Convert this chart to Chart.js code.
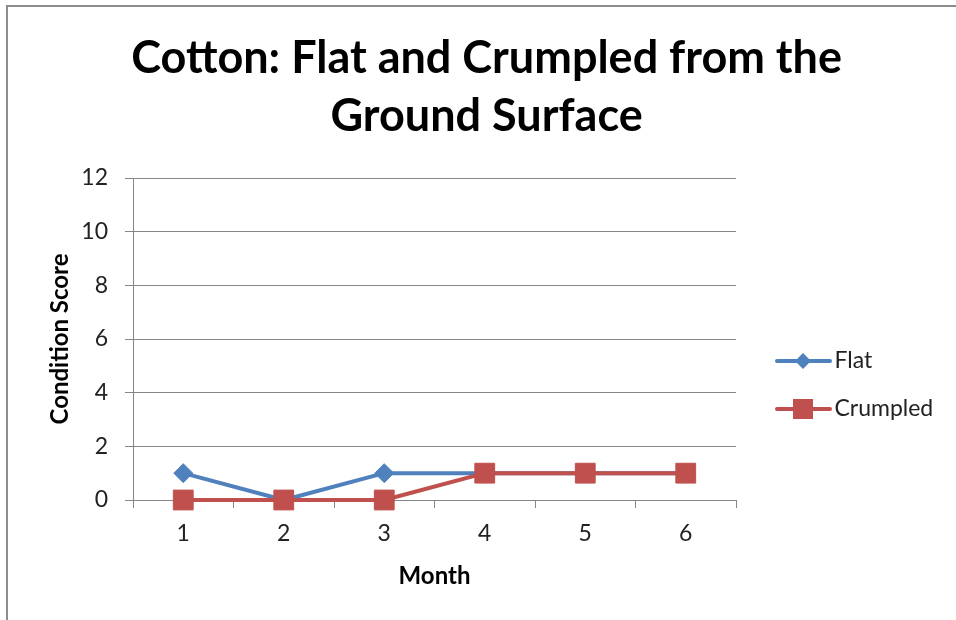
<!DOCTYPE html>
<html>
<head>
<meta charset="utf-8">
<script src="https://cdn.jsdelivr.net/npm/chart.js@4"></script>
<style>
  html, body { margin: 0; padding: 0; background: #fff; overflow: hidden; }
  #wrap { position: relative; width: 956px; height: 620px; }
  #frame { position: absolute; left: 6px; top: 5px; width: 960px; height: 620px;
           border-left: 2px solid #8c8c8c; border-top: 2px solid #8c8c8c; pointer-events: none; }
</style>
</head>
<body>
<div id="wrap"><canvas id="c" width="956" height="620"></canvas><div id="frame"></div></div>
<script>
// data
const MONTHS = ['1', '2', '3', '4', '5', '6'];
const FLAT = [1, 0, 1, 1, 1, 1];
const CRUMPLED = [0, 0, 0, 1, 1, 1];
const Y_MIN = 0;
const Y_MAX = 12;
const Y_STEP = 2;
const TITLE = ['Cotton: Flat and Crumpled from the', 'Ground Surface'];

const BLUE = '#4f81bd';
const RED = '#c0504d';
const AXIS = '#868686';
const TEXT = '#222';
const FONT = 'Lato';

// legend sample: line with the marker in the middle
function legendImg(color, style) {
  const c = document.createElement('canvas');
  c.width = 80; c.height = 24;
  const g = c.getContext('2d');
  g.strokeStyle = color; g.lineWidth = 4; g.lineCap = 'round';
  g.beginPath(); g.moveTo(25, 12); g.lineTo(78, 12); g.stroke();
  g.fillStyle = color;
  if (style === 'diamond') {
    g.beginPath(); g.moveTo(51, 4); g.lineTo(59, 12); g.lineTo(51, 20); g.lineTo(43, 12); g.closePath(); g.fill();
  } else {
    g.fillRect(41, 2, 20, 20);
  }
  return c;
}
const LEGEND_IMGS = [legendImg(BLUE, 'diamond'), legendImg(RED, 'square')];

const measure = document.createElement('canvas').getContext('2d');
measure.font = '23px ' + FONT;
const legendW = 25 + 62 + 11.5 + measure.measureText('Crumpled').width + 10;
const rightPad = Math.max(0, 956 - 736 - legendW);
const leftPad = 30;

new Chart(document.getElementById('c'), {
  type: 'line',
  data: {
    labels: MONTHS,
    datasets: [
      { label: 'Flat', data: FLAT, borderColor: BLUE, backgroundColor: BLUE, borderWidth: 4,
        pointStyle: 'rectRot', pointRadius: 9.5, pointBorderWidth: 1, pointBorderColor: BLUE,
        borderCapStyle: 'round', borderJoinStyle: 'round', tension: 0, clip: false, order: 1 },
      { label: 'Crumpled', data: CRUMPLED, borderColor: RED, backgroundColor: RED, borderWidth: 4,
        pointStyle: 'rect', pointRadius: 14, pointBorderWidth: 1, pointBorderColor: RED,
        borderCapStyle: 'round', borderJoinStyle: 'round', tension: 0, clip: false, order: 0 },
    ],
  },
  options: {
    responsive: false,
    animation: false,
    events: [],
    layout: { padding: { left: leftPad, right: rightPad, top: 0, bottom: 0 } },
    font: { family: FONT },
    plugins: {
      tooltip: { enabled: false },
      title: {
        display: true,
        text: TITLE,
        color: '#000',
        font: { family: FONT, size: 45, weight: 'bold', lineHeight: '58px' },
        padding: { top: 29, bottom: 33 },
      },
      legend: {
        position: 'right',
        title: { display: true, text: '', font: { size: 10, lineHeight: 1 }, padding: { top: 140, bottom: 0 } },
        labels: {
          usePointStyle: true,
          pointStyleWidth: 62,
          padding: 25,
          color: TEXT,
          font: { family: FONT, size: 23 },
          sort: (a, b) => a.datasetIndex - b.datasetIndex,
          generateLabels(chart) {
            const items = Chart.defaults.plugins.legend.labels.generateLabels(chart);
            items.forEach((it) => { it.pointStyle = LEGEND_IMGS[it.datasetIndex]; });
            return items;
          },
        },
      },
    },
    scales: {
      x: {
        offset: true,
        afterFit(scale) { scale.height = 120; },
        grid: { display: true, drawOnChartArea: false, offset: true, tickLength: 8, color: AXIS },
        border: { display: true, color: AXIS },
        ticks: { color: TEXT, padding: 12, font: { family: FONT, size: 23 } },
        title: { display: true, text: 'Month', color: '#000', font: { family: FONT, size: 24, weight: 'bold' },
                 padding: { top: 0, bottom: 29.6 } },
      },
      y: {
        min: Y_MIN,
        max: Y_MAX,
        afterFit(scale) { scale.width = 133 - leftPad; },
        grid: { color: AXIS, tickLength: 8 },
        border: { display: true, color: AXIS },
        ticks: { stepSize: Y_STEP, color: TEXT, padding: 17, font: { family: FONT, size: 23 } },
        title: { display: true, text: 'Condition Score', color: '#000', font: { family: FONT, size: 24, weight: 'bold' },
                 padding: { top: 60 - leftPad - 14.4, bottom: 0 } },
      },
    },
  },
});
</script>
</body>
</html>
